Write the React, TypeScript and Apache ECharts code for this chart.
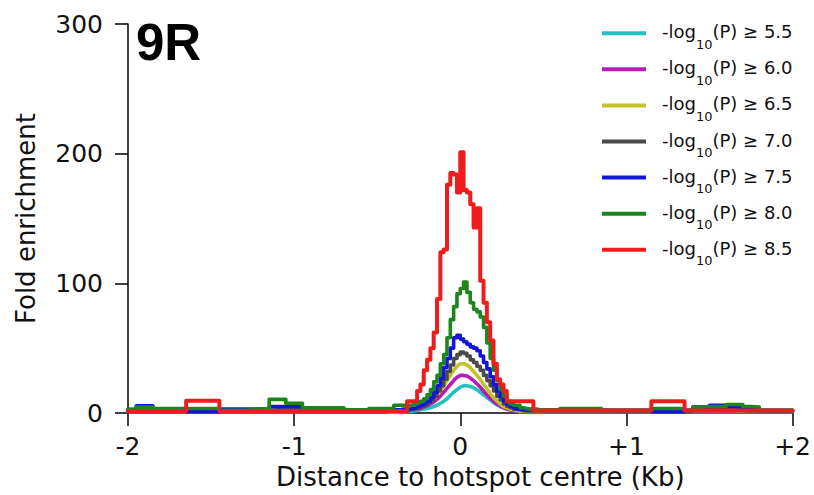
import React, { useEffect, useRef } from 'react';
import * as echarts from 'echarts';

// Distance to hotspot centre (Kb): coarse bins in the tails, fine bins in the peak
const distanceKb = [
  -2.0, -1.95, -1.9, -1.85, -1.8, -1.75, -1.7, -1.65, -1.6, -1.55, -1.5, -1.45, -1.4, -1.35, -1.3, -1.25,
  -1.2, -1.15, -1.1, -1.05, -1.0, -0.95, -0.9, -0.85, -0.8, -0.75, -0.7, -0.65, -0.6, -0.55, -0.5, -0.45,
  -0.4, -0.38, -0.36, -0.34, -0.32, -0.3, -0.28, -0.26, -0.24, -0.22, -0.2, -0.18, -0.16, -0.14, -0.12,
  -0.1, -0.08, -0.06, -0.04, -0.02, 0.0, 0.02, 0.04, 0.06, 0.08, 0.1, 0.12, 0.14, 0.16, 0.18, 0.2, 0.22,
  0.24, 0.26, 0.28, 0.3, 0.32, 0.34, 0.36, 0.38, 0.4, 0.42, 0.44, 0.46, 0.48,
  0.5, 0.55, 0.6, 0.65, 0.7, 0.75, 0.8, 0.85, 0.9, 0.95, 1.0, 1.05, 1.1, 1.15, 1.2, 1.25, 1.3, 1.35,
  1.4, 1.45, 1.5, 1.55, 1.6, 1.65, 1.7, 1.75, 1.8, 1.85, 1.9, 1.95, 2.0,
];

const foldP55 = [
  1, 1, 1, 1, 1, 1, 1, 1, 1, 1, 1, 1, 1, 1, 1, 1, 1, 1, 1, 1, 1, 1, 1, 1, 1, 1, 1, 1, 1, 1, 1, 1,
  0.5, 0.5, 0.5, 0.5, 1, 1, 1.5, 2, 2.5, 3, 3.5, 4, 5, 6, 7.5, 9, 11, 13.5, 16, 18, 20, 21, 21, 20.5,
  19.5, 18, 16, 14, 12, 10, 8, 6.5, 5, 4, 3, 2.5, 2, 1.5, 1, 1, 0.5, 0.5, 0.5, 0.5, 0.5,
  1, 1, 1, 1, 1, 1, 1, 1, 1, 1, 1, 1, 1, 1, 1, 1, 1, 1, 1, 1, 1, 1, 1, 1, 1, 1, 1, 1, 1, 1, 1,
];

const foldP60 = [
  1.5, 1.5, 1.5, 1.5, 1.5, 1.5, 1.5, 1.5, 1.5, 1.5, 1.5, 2.5, 2.5, 2.5, 2.5, 2.5, 2.5,
  1.5, 1.5, 1.5, 1.5, 1.5, 1.5, 1.5, 1.5, 1.5, 1.5, 1.5, 1.5, 1.5, 1.5, 1.5,
  1, 1, 1, 1, 1.5, 2, 2.5, 3, 3.5, 4.5, 5.5, 7, 8.5, 10.5, 13, 16, 19, 22, 25, 27.5, 29, 29, 28.5,
  27, 25, 22.5, 20, 17, 14, 11.5, 9, 7, 5.5, 4, 3, 2.5, 2, 1.5, 1.5, 1, 1, 1, 1, 1, 1,
  1.5, 1.5, 1.5, 1.5, 1.5, 1.5, 1.5, 1.5, 1.5, 1.5, 1.5, 1.5, 1.5, 1.5, 1.5, 1.5, 1.5, 1.5, 1.5, 1.5,
  1.5, 1.5, 1.5, 1.5, 1.5, 1.5, 1.5, 1.5, 1.5, 1.5, 1.5,
];

const foldP65 = [
  1.5, 1.5, 1.5, 1.5, 1.5, 1.5, 1.5, 1.5, 1.5, 1.5, 1.5, 1.5, 1.5, 1.5, 1.5, 1.5, 1.5, 2, 2, 2, 2,
  1.5, 1.5, 1.5, 1.5, 1.5, 1.5, 1.5, 1.5, 1.5, 1.5, 1.5,
  1, 1, 1.5, 1.5, 2, 2.5, 3, 3.5, 4.5, 5.5, 7, 9, 11, 14, 17, 21, 25, 29, 33, 36, 38, 38, 37, 35,
  32, 29, 26, 22, 19, 15, 12, 9.5, 7, 5, 4, 3, 2.5, 2, 1.5, 1.5, 1.5, 1.5, 1.5, 1.5, 1.5,
  1.5, 1.5, 1.5, 1.5, 1.5, 1.5, 1.5, 1.5, 1.5, 1.5, 1.5, 1.5, 1.5, 1.5, 1.5, 1.5, 1.5, 1.5,
  2, 2, 2, 2, 2, 2, 1.5, 1.5, 1.5, 1.5, 1.5, 1.5, 1.5,
];

const foldP70 = [
  2, 2, 2, 2, 2, 2, 2, 1.5, 1.5, 1.5, 1.5, 2, 2, 2, 2, 2, 2, 2.5, 2.5, 2.5, 2.5, 2, 2, 2, 2, 2,
  1.5, 1.5, 1.5, 1.5, 2, 2,
  1.5, 1.5, 2, 2, 2.5, 3, 3.5, 4, 5, 6, 8, 10, 13, 17, 21, 26, 32, 37, 42, 45, 47, 46, 44, 41, 39,
  36, 33, 29, 25, 21, 17, 13, 10, 7, 5, 4, 3, 2.5, 2, 1.5, 1.5, 1.5, 1.5, 1.5, 1.5,
  1.5, 1.5, 1.5, 1.5, 1.5, 1.5, 1.5, 1.5, 1.5, 1.5, 1.5, 1.5, 1.5, 1, 1, 1, 1, 1.5, 2.5, 3, 3, 3,
  2.5, 2, 1.5, 1.5, 1.5, 1.5, 1.5, 1.5, 1.5,
];

const foldP75 = [
  2.5, 5.5, 5.5, 3, 3, 2.5, 2.5, 1, 1, 1, 1, 3, 3, 3, 3, 3, 3, 5, 5, 5, 5, 2.5, 2.5, 2.5, 2.5, 2.5,
  2, 2, 2, 2, 2.5, 2.5,
  2.5, 2.5, 3, 3, 3, 3.5, 4, 5, 6, 7.5, 9, 12, 16, 21, 27, 35, 42, 50, 58, 60, 57, 55, 53, 51, 50,
  48, 44, 39, 34, 28, 22, 17, 13, 9, 7, 5, 4, 3, 2.5, 2.5, 2.5, 2.5, 2.5, 2.5, 2.5,
  2.5, 2.5, 2.5, 2.5, 2.5, 2.5, 2.5, 2, 2, 2, 2, 2, 2, 1, 1, 1, 1, 2, 4.5, 5, 6, 6, 5, 4.5, 4, 3,
  2, 2, 2, 2, 2,
];

const foldP80 = [
  3, 4.5, 4.5, 3.5, 3.5, 3.5, 3.5, 3.5, 3.5, 3.5, 3.5, 2, 2, 2, 2.5, 3, 3.5, 10.5, 10.5, 7.5, 7.5,
  4, 4, 4, 4, 4, 2.5, 2.5, 2.5, 3.5, 3.5, 3.5,
  6, 6, 6, 6, 6, 6, 7, 8, 9, 11, 14, 18, 24, 29, 38, 45, 58, 72, 82, 92, 96, 101, 93, 85, 80, 78,
  74, 66, 54, 42, 33, 25, 18, 13, 9, 7, 6, 6, 4, 3.5, 3, 3, 3, 2.5, 2.5,
  2.5, 2.5, 3.5, 3.5, 3.5, 3.5, 3.5, 2, 2, 2, 2, 2, 2, 3.5, 3.5, 3.5, 3.5, 2, 4.5, 5, 5, 5, 6.5,
  6.5, 5, 4.5, 2, 2, 2, 2, 2,
];

const foldP85 = [
  1.5, 1.5, 1.5, 1.5, 1.5, 1.5, 1.5, 9.5, 9.5, 9.5, 9.5, 1.5, 1.5, 1.5, 1.5, 1.5, 1.5, 1.5, 1.5,
  1.5, 1.5, 1.5, 1.5, 1.5, 1.5, 1.5, 1.5, 1.5, 1.5, 1.5, 1.5, 1.5,
  1.5, 1.5, 1.5, 1.5, 9, 9, 9, 17, 22, 33, 41, 50, 62, 88, 124, 126, 176, 185, 184, 170, 201, 172,
  170, 161, 143, 158, 102, 85, 70, 56, 38, 26, 22, 17, 9, 9, 9, 9, 9, 9, 9, 9, 2, 2, 2,
  2, 2, 2, 2, 2, 2, 2, 2, 2, 2, 2, 2, 2, 9, 9, 9, 9, 2, 2, 2, 2, 2, 2, 2, 2, 2, 2, 2, 2, 2, 2,
];

const seriesNames = [
  '-log10(P) ≥ 5.5',
  '-log10(P) ≥ 6.0',
  '-log10(P) ≥ 6.5',
  '-log10(P) ≥ 7.0',
  '-log10(P) ≥ 7.5',
  '-log10(P) ≥ 8.0',
  '-log10(P) ≥ 8.5',
];

const seriesColors = ['#22c2c2', '#b41cb4', '#c2c22a', '#4a4a4a', '#1414dc', '#1c861c', '#ee1c1c'];

const xTickValues = [-2, -1, 0, 1, 2];

const FONT = 'DejaVu Sans';

export default function App() {
  const ref = useRef<HTMLDivElement>(null);

  useEffect(() => {
    if (!ref.current) return;
    const chart = echarts.init(ref.current, null, { renderer: 'svg' });
    const valuesList = [foldP55, foldP60, foldP65, foldP70, foldP75, foldP80, foldP85];

    chart.setOption({
      animation: false,
      backgroundColor: '#ffffff',
      grid: { left: 128, right: 21, top: 24, bottom: 82 },
      xAxis: {
        type: 'value',
        min: xTickValues[0],
        max: xTickValues[xTickValues.length - 1],
        interval: 1,
        axisLine: { show: true, onZero: false, lineStyle: { color: '#000', width: 1.5 } },
        axisTick: { show: true, length: 13, lineStyle: { color: '#000', width: 1.5 } },
        axisLabel: {
          formatter: (v: number) => (v > 0 ? '+' + v : String(v)),
          fontSize: 25,
          fontFamily: FONT,
          color: '#111',
          margin: 21,
        },
        splitLine: { show: false },
        name: 'Distance to hotspot centre (Kb)',
        nameLocation: 'middle',
        nameGap: 48,
        nameTextStyle: { fontSize: 26, fontFamily: FONT, color: '#111', padding: [0, 0, 0, 40] },
      },
      yAxis: {
        type: 'value',
        min: 0,
        max: 300,
        interval: 100,
        axisLine: { show: true, onZero: false, lineStyle: { color: '#000', width: 1.5 } },
        axisTick: { show: true, length: 13, lineStyle: { color: '#000', width: 1.5 } },
        axisLabel: { fontSize: 25, fontFamily: FONT, color: '#111', margin: 25 },
        splitLine: { show: false },
        name: 'Fold enrichment',
        nameLocation: 'middle',
        nameGap: 89,
        nameTextStyle: { fontSize: 26, fontFamily: FONT, color: '#111' },
      },
      legend: {
        orient: 'vertical',
        left: 602,
        top: 12.7,
        padding: 0,
        itemGap: -1.9,
        itemWidth: 44,
        itemHeight: 4,
        icon: 'rect',
        formatter: (name: string) => name.replace('log10', 'log{sub|10}'),
        textStyle: {
          fontSize: 18,
          fontFamily: FONT,
          color: '#111',
          lineHeight: 22,
          padding: [0, 0, 3, 11],
          rich: {
            sub: { fontSize: 13, fontFamily: FONT, color: '#111', lineHeight: 22, padding: [25, 0, 0, 0] },
          },
        },
      },
      graphic: [
        {
          type: 'text',
          left: 136,
          top: 17,
          style: { text: '9R', font: 'bold 51px "Liberation Sans"', fill: '#000' },
        },
      ],
      series: valuesList.map((vals, i) => ({
        type: 'line',
        name: seriesNames[i],
        step: i < 3 ? false : 'end',
        symbol: 'none',
        showSymbol: false,
        color: seriesColors[i],
        itemStyle: { color: seriesColors[i] },
        lineStyle: { color: seriesColors[i], width: i === 6 ? 4 : 3.6, join: 'round', cap: 'round' },
        z: 2 + i,
        data: distanceKb.map((x, j) => [x, vals[j]]),
      })),
    });

    return () => chart.dispose();
  }, []);

  return <div ref={ref} style={{ position: 'fixed', left: 0, top: 0, width: 814, height: 495 }} />;
}
